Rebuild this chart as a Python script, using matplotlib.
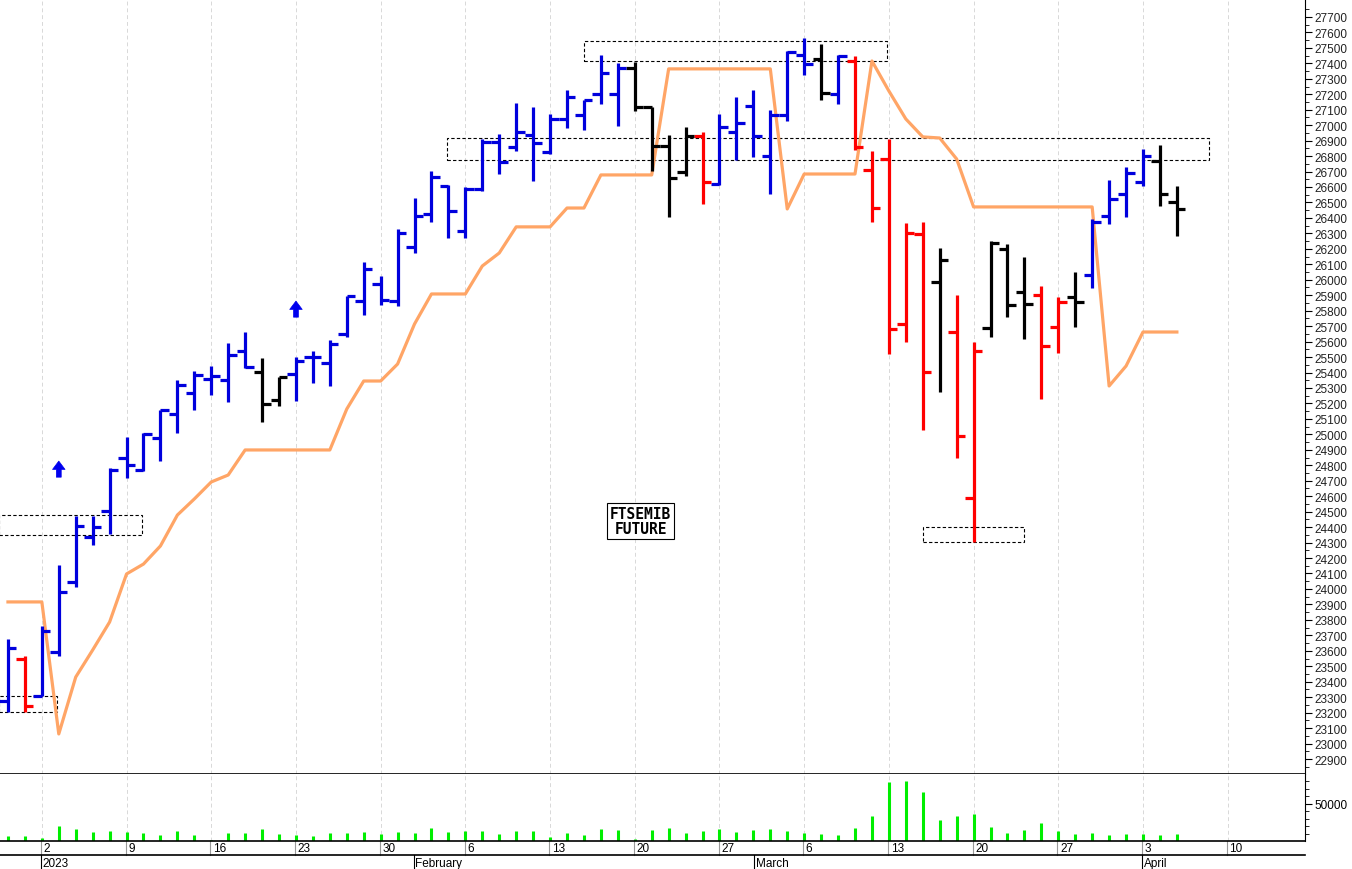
import matplotlib
matplotlib.use("Agg")
import matplotlib.pyplot as plt
import matplotlib.transforms as mtransforms
import numpy as np

plt.rcParams['font.family'] = ['Liberation Sans', 'DejaVu Sans']

opens = [23275,23547,23308,23592,24045,24336,24504,24847,24770,24977,25132,25268,25358,25352,25539,25404,25222,25391,25500,25462,
         25649,25863,25973,25863,26212,26426,26607,26316,26587,26891,26859,26937,26827,27040,27066,27202,27202,27370,27118,26866,
         26697,26930,26620,26956,27124,26801,27066,27454,27428,27202,27415,26710,26781,25714,26296,25986,25662,24588,25688,26199,
         25921,25902,25695,25889,26031,26413,26555,26633,26768,26503]
highs = [23676,23566,23760,24155,24472,24472,24782,24983,25009,25158,25352,25410,25442,25591,25662,25494,25371,25500,25539,25611,
         25895,26115,26025,26329,26529,26704,26613,26600,26911,26943,27144,27118,27072,27228,27163,27454,27402,27409,27118,26937,
         26988,26956,27072,27182,27228,27098,27480,27564,27525,27454,27448,26833,26911,26367,26374,26206,25902,25598,26251,26232,
         26147,25960,25889,26050,26393,26646,26730,26846,26872,26607]
lows = [23204,23204,23308,23566,24013,24284,24355,24718,24763,24828,25009,25158,25255,25210,25429,25080,25184,25216,25332,25313,
        25630,25772,25837,25830,26173,26374,26270,26270,26574,26684,26833,26639,26814,26982,26969,27137,26995,27092,26704,26406,
        26671,26490,26613,26775,26794,26555,27027,27325,27163,27137,26840,26374,25520,25598,25028,25274,24847,24304,25630,25759,
        25617,25229,25526,25695,25947,26361,26406,26607,26477,26283]
closes = [23618,23243,23728,23980,24407,24401,24770,24802,25002,25158,25319,25384,25378,25513,25436,25197,25371,25475,25500,25585,
          25895,26070,25869,26303,26413,26665,26445,26587,26891,26762,26956,26885,27040,27182,27163,27338,27370,27118,26866,26658,
          26930,26633,26988,27014,26930,27066,27474,27396,27208,27448,26859,26464,25682,26303,25404,26128,24989,25539,26238,25837,
          25843,25572,25856,25856,26374,26523,26691,26801,26555,26458]
bar_colors = (['b','r'] + ['b']*13 + ['k']*2 + ['b']*20 + ['k']*4 + ['r'] + ['b']*6 + ['k'] + ['b'] + ['r']*5 + ['k'] +
              ['r']*2 + ['k']*3 + ['r']*2 + ['k'] + ['b']*4 + ['k']*2)
stop_line = [23916,23916,23916,23062,23430,23605,23786,24097,24161,24278,24478,24582,24692,24737,24899,24899,24899,24899,24899,24899,
             25164,25345,25345,25455,25714,25908,25908,25908,26089,26173,26342,26342,26342,26464,26464,26678,26678,26678,26678,27364,
             27364,27364,27364,27364,27364,27364,26458,26684,26684,26684,26684,27415,27221,27040,26924,26917,26781,26471,26471,26471,
             26471,26471,26471,26471,26471,25313,25442,25662,25662,25662]
volumes = [6800,6800,4500,20300,15800,12200,13500,12200,11300,7700,13500,8100,1400,11300,11300,15800,9900,8100,6800,11300,
           10800,12200,9900,12200,10800,17600,12200,13500,13500,9000,13500,13500,5400,11300,8100,15800,14400,3200,14400,17600,
           10400,13500,15800,12200,14400,15800,13500,10400,9000,8100,17600,33800,78800,81000,66200,28400,32900,36900,19400,11300,
           14900,24800,13100,9900,10400,7700,9500,9000,8600,9900]
# zones: (start index, end index, low, high)
zones = [(-0.5, 7.9, 24349, 24478), (-0.5, 2.9, 23204, 23308), (25.9, 70.9, 26775, 26917),
         (34.0, 51.9, 27415, 27545), (54.0, 60.0, 24304, 24401)]
arrows = [(3, 24775), (17, 25810)]
mondays = [2, 7, 12, 17, 22, 27, 32, 37, 42, 47, 52, 57, 62, 67, 72]
monday_labels = ['2', '9', '16', '23', '30', '6', '13', '20', '27', '6', '13', '20', '27', '3', '10']
months = [(2, '2023'), (24.0, 'February'), (44.1, 'March'), (67.0, 'April')]

cmap = {'b': '#0000dd', 'r': '#ff0000', 'k': '#000000'}
fig = plt.figure(figsize=(13.52, 8.7), dpi=100)
ax = fig.add_axes([0, 0.1092, 0.9652, 0.8908])
axv = fig.add_axes([0, 0.0322, 0.9652, 0.077], sharex=ax)

x = np.arange(len(opens))
cols = [cmap[c] for c in bar_colors]
ax.vlines(x, lows, highs, colors=cols, lw=2.3, zorder=3)
ax.hlines(opens, x - 0.5, x, colors=cols, lw=2.3, zorder=3)
ax.hlines(closes, x, x + 0.5, colors=cols, lw=2.3, zorder=3)
ax.plot(x, stop_line, color='#ffa566', lw=2.3, zorder=2)
for s, e, lo, hi in zones:
    ax.add_patch(plt.Rectangle((s, lo), e - s, hi - lo, fill=False, ls=(0, (3, 2)), lw=0.8, ec='black', zorder=1))
for i, p in arrows:
    ax.annotate('', xy=(i, p + 70), xytext=(i, p - 70),
                arrowprops=dict(arrowstyle='simple,head_width=0.9,head_length=0.6,tail_width=0.35',
                                fc='#0000ee', ec='#0000ee', lw=0.5))
ax.text(0.491, 0.326, 'FTSEMIB\nFUTURE', transform=ax.transAxes, ha='center', va='center', fontsize=10.5,
        fontweight='bold', linespacing=1.0, family=['DejaVu Sans Mono'],
        bbox=dict(boxstyle='square,pad=0.2', fc='white', ec='black', lw=0.8))

ax.set_xlim(-0.47, 76.56)
ax.set_ylim(22803, 27816)
for m in mondays:
    ax.axvline(m, color='#d8d8d8', ls=(0, (4, 3)), lw=0.7, zorder=0)
    axv.axvline(m, color='#d8d8d8', ls=(0, (4, 3)), lw=0.7, zorder=0)
ax.yaxis.tick_right()
ax.set_yticks(np.arange(22900, 27701, 100))
ax.set_yticklabels([str(v) for v in range(22900, 27701, 100)], fontsize=8.5)
ax.set_yticks(np.arange(22850, 27800, 50), minor=True)
ax.tick_params(axis='y', which='major', length=5, pad=2, labelcolor='#222222')
ax.tick_params(axis='y', which='minor', length=3)
ax.tick_params(axis='x', bottom=False, labelbottom=False)
for sp in ['top', 'left']:
    ax.spines[sp].set_visible(False)
    axv.spines[sp].set_visible(False)
ax.spines['bottom'].set_linewidth(1.2)

axv.vlines(x, 0, volumes, colors='#00ee00', lw=2.2)
axv.set_ylim(0, 90000)
axv.yaxis.tick_right()
axv.set_yticks([50000])
axv.set_yticklabels(['50000'], fontsize=8.5)
axv.set_yticks([10000, 20000, 30000, 40000, 60000, 70000, 80000], minor=True)
axv.tick_params(axis='y', which='major', length=5, pad=2)
axv.tick_params(axis='y', which='minor', length=3)
axv.set_xticks(mondays)
axv.set_xticklabels([])
axv.tick_params(axis='x', length=0)
axv.spines['bottom'].set_linewidth(1.2)

tr = mtransforms.blended_transform_factory(axv.transData, fig.transFigure)
for m, lab in zip(mondays, monday_labels):
    axv.plot([m - 0.05, m - 0.05], [0.0322, 0.016], transform=tr, color='#999999', lw=0.8, clip_on=False)
    axv.text(m + 0.1, 0.024, lab, transform=tr, fontsize=8.5, ha='left', va='center')
fig.add_artist(plt.Line2D([0, 0.9652], [0.016, 0.016], color='black', lw=1.2))
for m, lab in months:
    axv.plot([m - 0.05, m - 0.05], [0.016, 0.0], transform=tr, color='black', lw=0.8, clip_on=False)
    axv.text(m + 0.05, 0.007, lab, transform=tr, fontsize=8.5, ha='left', va='center')

fig.savefig('out.png', dpi=100)
